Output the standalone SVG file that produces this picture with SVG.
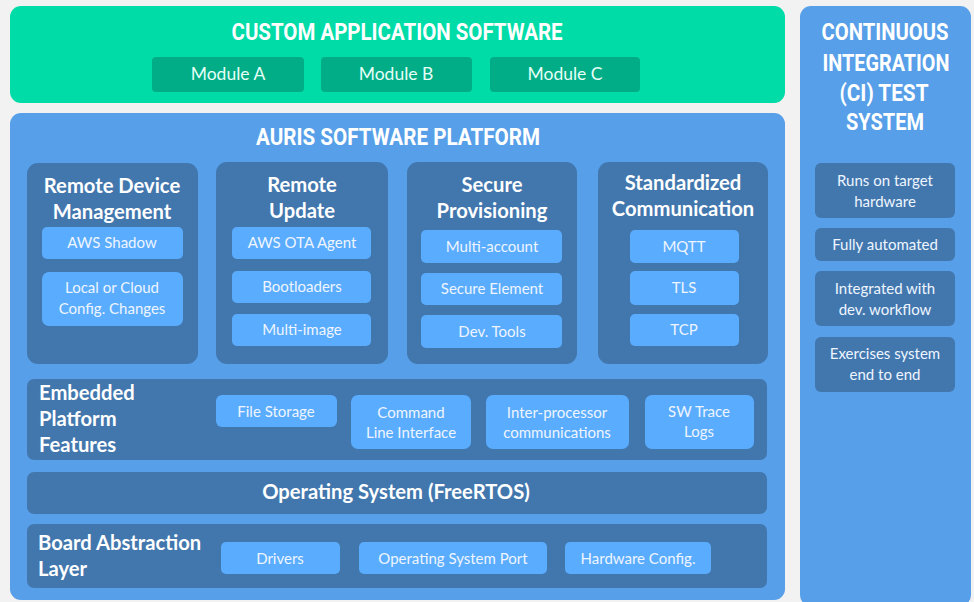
<svg xmlns="http://www.w3.org/2000/svg" width="974" height="602" viewBox="0 0 974 602">
<style>
.bg{fill:#f2f2f2}
.green{fill:#00dca8}
.mod{fill:#00ad86}
.panel{fill:#579fe8}
.dark{fill:#4277ae}
.item{fill:#5aacfe}
.title{font-family:Roboto,"DejaVu Sans",sans-serif;font-weight:bold;fill:#ffffff;text-anchor:middle}
.head{font-family:Lato,"Open Sans",sans-serif;font-weight:bold;font-size:20.2px;fill:#ffffff}
.c{text-anchor:middle}
.t{font-family:Lato,"Open Sans",sans-serif;font-size:15px;fill:#eef5ff;text-anchor:middle}
.tm{font-family:Lato,"Open Sans",sans-serif;font-size:17.5px;fill:#e6fff7;text-anchor:middle}
</style>
<rect class="bg" x="0" y="0" width="974" height="602"/>
<g id="custom-app">
<rect class="green" x="10" y="6" width="775" height="97" rx="11"/>
<text class="title" x="397" y="40" font-size="24" textLength="331" lengthAdjust="spacingAndGlyphs">CUSTOM APPLICATION SOFTWARE</text>
</g>
<g id="module-a"><rect class="mod" x="152" y="57" width="152" height="35" rx="4"/><text class="tm" x="228" y="80">Module A</text></g>
<g id="module-b"><rect class="mod" x="321" y="57" width="151" height="35" rx="4"/><text class="tm" x="396" y="80">Module B</text></g>
<g id="module-c"><rect class="mod" x="490" y="57" width="150" height="35" rx="4"/><text class="tm" x="565" y="80">Module C</text></g>

<g id="ci-system">
<rect class="panel" x="800" y="6" width="171" height="600" rx="11"/>
<text class="title" font-size="23"><tspan x="885" y="40" textLength="127" lengthAdjust="spacingAndGlyphs">CONTINUOUS</tspan><tspan x="886" y="71" textLength="127" lengthAdjust="spacingAndGlyphs">INTEGRATION</tspan><tspan x="884" y="101" textLength="89" lengthAdjust="spacingAndGlyphs">(CI) TEST</tspan><tspan x="885" y="130" textLength="78" lengthAdjust="spacingAndGlyphs">SYSTEM</tspan></text>
</g>
<g id="ci-runs"><rect class="dark" x="815" y="163" width="140" height="55" rx="6"/><text class="t"><tspan x="885" y="186">Runs on target</tspan><tspan x="885" y="207">hardware</tspan></text></g>
<g id="ci-auto"><rect class="dark" x="815" y="228" width="140" height="33" rx="6"/><text class="t" x="885" y="250">Fully automated</text></g>
<g id="ci-integrated"><rect class="dark" x="815" y="271" width="140" height="55" rx="6"/><text class="t"><tspan x="885" y="294">Integrated with</tspan><tspan x="885" y="315">dev. workflow</tspan></text></g>
<g id="ci-exercises"><rect class="dark" x="815" y="337" width="140" height="55" rx="6"/><text class="t"><tspan x="885" y="359">Exercises system</tspan><tspan x="885" y="380">end to end</tspan></text></g>

<g id="auris-platform">
<rect class="panel" x="10" y="113" width="775" height="487" rx="11"/>
<text class="title" x="398" y="145" font-size="23" textLength="284" lengthAdjust="spacingAndGlyphs">AURIS SOFTWARE PLATFORM</text>
</g>

<g id="remote-device-mgmt">
<rect class="dark" x="27" y="163" width="171" height="201" rx="11"/>
<text class="head c"><tspan x="112" y="193">Remote Device</tspan><tspan x="112" y="219">Management</tspan></text>
<rect class="item" x="42" y="227" width="141" height="32" rx="5"/><text class="t" x="112" y="248">AWS Shadow</text>
<rect class="item" x="42" y="272" width="141" height="54" rx="7"/><text class="t"><tspan x="112" y="293">Local or Cloud</tspan><tspan x="112" y="314">Config. Changes</tspan></text>
</g>
<g id="remote-update">
<rect class="dark" x="216" y="162" width="172" height="202" rx="11"/>
<text class="head c"><tspan x="302" y="192">Remote</tspan><tspan x="302" y="218">Update</tspan></text>
<rect class="item" x="232" y="227" width="139" height="32" rx="5"/><text class="t" x="302" y="248">AWS OTA Agent</text>
<rect class="item" x="232" y="271" width="139" height="32" rx="5"/><text class="t" x="302" y="292">Bootloaders</text>
<rect class="item" x="232" y="314" width="139" height="32" rx="5"/><text class="t" x="302" y="335">Multi-image</text>
</g>
<g id="secure-provisioning">
<rect class="dark" x="407" y="162" width="170" height="202" rx="11"/>
<text class="head c"><tspan x="492" y="192">Secure</tspan><tspan x="492" y="218">Provisioning</tspan></text>
<rect class="item" x="421" y="230" width="141" height="33" rx="5"/><text class="t" x="492" y="252">Multi-account</text>
<rect class="item" x="421" y="273" width="141" height="32" rx="5"/><text class="t" x="492" y="294">Secure Element</text>
<rect class="item" x="421" y="315" width="141" height="33" rx="5"/><text class="t" x="492" y="337">Dev. Tools</text>
</g>
<g id="standardized-comm">
<rect class="dark" x="598" y="162" width="170" height="202" rx="11"/>
<text class="head c"><tspan x="683" y="190">Standardized</tspan><tspan x="683" y="216">Communication</tspan></text>
<rect class="item" x="630" y="230" width="109" height="33" rx="5"/><text class="t" x="684" y="252">MQTT</text>
<rect class="item" x="630" y="271" width="109" height="34" rx="5"/><text class="t" x="684" y="293">TLS</text>
<rect class="item" x="630" y="314" width="109" height="32" rx="5"/><text class="t" x="684" y="335">TCP</text>
</g>

<g id="embedded-features">
<rect class="dark" x="27" y="379" width="740" height="81" rx="7"/>
<text class="head"><tspan x="39" y="400">Embedded</tspan><tspan x="39" y="426">Platform</tspan><tspan x="39" y="452">Features</tspan></text>
<rect class="item" x="216" y="395" width="121" height="32" rx="6"/><text class="t" x="276" y="417">File Storage</text>
<rect class="item" x="351" y="395" width="120" height="54" rx="7"/><text class="t"><tspan x="411" y="418">Command</tspan><tspan x="411" y="438">Line Interface</tspan></text>
<rect class="item" x="486" y="395" width="143" height="54" rx="7"/><text class="t"><tspan x="557" y="418">Inter-processor</tspan><tspan x="557" y="438">communications</tspan></text>
<rect class="item" x="645" y="395" width="109" height="54" rx="7"/><text class="t"><tspan x="699" y="417">SW Trace</tspan><tspan x="699" y="437">Logs</tspan></text>
</g>

<g id="operating-system">
<rect class="dark" x="27" y="472" width="740" height="42" rx="7"/>
<text class="head c" x="396" y="499">Operating System (FreeRTOS)</text>
</g>

<g id="board-abstraction">
<rect class="dark" x="27" y="524" width="740" height="64" rx="7"/>
<text class="head"><tspan x="38" y="550">Board Abstraction</tspan><tspan x="38" y="576">Layer</tspan></text>
<rect class="item" x="221" y="542" width="119" height="32" rx="5"/><text class="t" x="280" y="564">Drivers</text>
<rect class="item" x="359" y="542" width="188" height="32" rx="5"/><text class="t" x="453" y="564">Operating System Port</text>
<rect class="item" x="565" y="542" width="146" height="32" rx="5"/><text class="t" x="638" y="564">Hardware Config.</text>
</g>
<g id="connectors"/>
</svg>
